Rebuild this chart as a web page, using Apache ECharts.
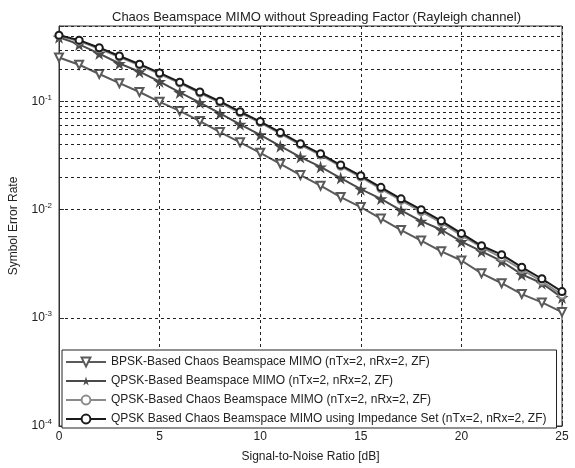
<!DOCTYPE html>
<html>
<head>
<meta charset="utf-8">
<script src="https://cdn.jsdelivr.net/npm/echarts@6/dist/echarts.min.js"></script>
<style>html,body{margin:0;padding:0;background:#fff}#c{width:575px;height:468px}</style>
</head>
<body>
<div id="c"></div>
<script>
const snr = [0,1,2,3,4,5,6,7,8,9,10,11,12,13,14,15,16,17,18,19,20,21,22,23,24,25];
const bpskChaos = [0.256,0.219,0.180,0.148,0.1226,0.0994,0.0819,0.0661,0.0522,0.0420,0.0336,0.0266,0.0209,0.0167,0.0131,0.01058,0.00828,0.00649,0.00518,0.00412,0.00339,0.00258,0.00209,0.00166,0.00139,0.00113];
const qpskBeam = [0.394,0.338,0.278,0.225,0.189,0.153,0.1216,0.0979,0.0777,0.0617,0.0493,0.0387,0.0307,0.0249,0.0196,0.0155,0.0126,0.00987,0.00784,0.00653,0.00508,0.00412,0.00334,0.00252,0.00209,0.00154];
const qpskChaos = [0.405,0.362,0.308,0.258,0.217,0.180,0.148,0.120,0.098,0.0788,0.0638,0.0505,0.0398,0.0320,0.0252,0.0200,0.0156,0.0122,0.0096,0.0076,0.0058,0.0045,0.0036,0.0028,0.00218,0.00163];
const qpskImp = [0.411,0.370,0.315,0.264,0.222,0.184,0.1512,0.1226,0.1006,0.0806,0.0653,0.0518,0.0408,0.0329,0.0259,0.0206,0.0161,0.0126,0.0100,0.00789,0.00604,0.00464,0.00384,0.00294,0.00230,0.00175];
const seriesNames = [
  'BPSK-Based Chaos Beamspace MIMO (nTx=2, nRx=2, ZF)',
  'QPSK-Based Beamspace MIMO (nTx=2, nRx=2, ZF)',
  'QPSK-Based Chaos Beamspace MIMO (nTx=2, nRx=2, ZF)',
  'QPSK Based Chaos Beamspace MIMO using Impedance Set (nTx=2, nRx=2, ZF)'
];
const xTicks = [0,5,10,15,20,25];
const yDecades = [1e-4,1e-3,1e-2,1e-1];
const yMinorGrid = [2e-4,3e-4,4e-4,5e-4,6e-4,7e-4,8e-4,9e-4,2e-3,3e-3,4e-3,5e-3,6e-3,7e-3,8e-3,9e-3,2e-2,3e-2,4e-2,5e-2,6e-2,7e-2,8e-2,9e-2,0.2,0.3,0.4];

const FONT = 'Liberation Sans';
const star = 'path://M50,0 L61,35 L98,35 L68,57 L79,91 L50,70 L21,91 L32,57 L2,35 L39,35 Z';
const pairs = a => snr.map((x,i)=>[x,a[i]]);
const chart = echarts.init(document.getElementById('c'), null, {renderer:'canvas'});
const gridDash = {color:'#222', type:[3,3], width:1};

chart.setOption({
  backgroundColor:'#fff',
  animation:false,
  title:{text:'Chaos Beamspace MIMO without Spreading Factor (Rayleigh channel)', left:107, top:6,
    textStyle:{fontFamily:FONT, fontSize:13, fontWeight:'normal', color:'#222'}},
  grid:{left:57, right:13, top:26, bottom:36, show:true, borderColor:'#333', borderWidth:1, backgroundColor:'transparent'},
  legend:{
    orient:'vertical', left:62, top:350, itemGap:7, itemWidth:40, itemHeight:11,
    padding:[6,10,3,3], borderColor:'#222', borderWidth:1, backgroundColor:'#fff',
    textStyle:{fontFamily:FONT, fontSize:12, color:'#222'},
    data: seriesNames
  },
  xAxis:{type:'value', min:0, max:25, interval:5,
    name:'Signal-to-Noise Ratio [dB]', nameLocation:'middle', nameGap:25,
    nameTextStyle:{fontFamily:FONT, fontSize:12, color:'#222'},
    axisLine:{lineStyle:{color:'#333'}}, axisTick:{inside:true, length:5, lineStyle:{color:'#333'}},
    axisLabel:{fontFamily:FONT, fontSize:12, color:'#222', margin:5},
    splitLine:{show:true, lineStyle:gridDash}},
  yAxis:{type:'log', logBase:10, min:1e-4, max:0.5,
    name:'Symbol Error Rate', nameLocation:'middle', nameGap:39,
    nameTextStyle:{fontFamily:FONT, fontSize:12, color:'#222'},
    axisLine:{lineStyle:{color:'#333'}}, axisTick:{inside:true, length:5, lineStyle:{color:'#333'}},
    axisLabel:{margin:7, formatter:function(v){
        const lg = Math.log10(v), e = Math.round(lg);
        if (Math.abs(lg-e) > 1e-6 || e > -1) return '';
        return '{b|10}{s|' + e + '}';
      },
      rich:{b:{fontFamily:FONT, fontSize:12, color:'#222'}, s:{fontFamily:FONT, fontSize:8, color:'#222', padding:[0,0,8,0]}}},
    splitLine:{show:true, lineStyle:gridDash}},
  series:[
    {name:seriesNames[0], type:'line', data:pairs(bpskChaos), symbol:'emptyTriangle', symbolRotate:180, symbolSize:8,
      lineStyle:{color:'#5a5a5a', width:2}, itemStyle:{color:'#5a5a5a', borderColor:'#5a5a5a', borderWidth:1.3}, z:3,
      markLine:{silent:true, symbol:'none', label:{show:false}, lineStyle:gridDash, animation:false,
        data: yMinorGrid.map(v=>({yAxis:v}))}},
    {name:seriesNames[1], type:'line', data:pairs(qpskBeam), symbol:star, symbolSize:13,
      lineStyle:{color:'#4a4a4a', width:2}, itemStyle:{color:'#4a4a4a'}, z:4},
    {name:seriesNames[2], type:'line', data:pairs(qpskChaos), symbol:'emptyCircle', symbolSize:7,
      lineStyle:{color:'#8a8a8a', width:2}, itemStyle:{color:'#8a8a8a', borderColor:'#8a8a8a', borderWidth:1.3}, z:5},
    {name:seriesNames[3], type:'line', data:pairs(qpskImp), symbol:'emptyCircle', symbolSize:7,
      lineStyle:{color:'#1a1a1a', width:2}, itemStyle:{color:'#1a1a1a', borderColor:'#1a1a1a', borderWidth:1.5}, z:6}
  ]
});
</script>
</body>
</html>
